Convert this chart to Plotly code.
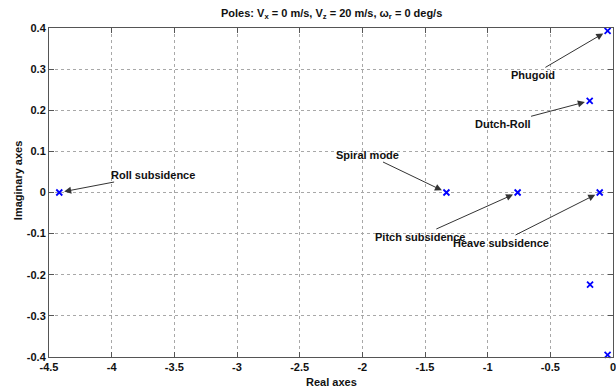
import plotly.graph_objects as go

# Pole locations (real, imaginary)
pole_re = [-0.043, -0.186, -0.183, -0.043, -1.329, -0.761, -0.106, -4.418]
pole_im = [0.393, 0.223, -0.224, -0.395, 0.0, 0.0, 0.0, 0.0]

# Mode labels and the pole each label points at (index into pole lists)
mode_names = ["Phugoid", "Dutch-Roll", "Spiral mode", "Pitch subsidence",
              "Heave subsidence", "Roll subsidence"]
mode_pole_idx = [0, 1, 4, 5, 6, 7]
# label offsets in pixels (text centre relative to pole)
label_dx = [-75, -87, -79, -98, -99, 94]
label_dy = [44, 23, -38, 44, 50, -18]

x_ticks = [-4.5, -4, -3.5, -3, -2.5, -2, -1.5, -1, -0.5, 0]
x_ticktext = ["-4.5", "-4", "-3.5", "-3", "-2.5", "-2", "-1.5", "-1", "-0.5", "0"]
y_ticks = [0.4, 0.3, 0.2, 0.1, 0, -0.1, -0.2, -0.3, -0.4]
y_ticktext = ["0.4", "0.3", "0.2", "0.1", "0", "-0.1", "-0.2", "-0.3", "-0.4"]

FONT = "Liberation Sans, Arial, sans-serif"

fig = go.Figure()
fig.add_trace(go.Scatter(
    x=pole_re, y=pole_im, mode="markers",
    marker=dict(symbol="x-thin", size=6, line=dict(width=1.8, color="#0000ff"), color="#0000ff"),
    showlegend=False, cliponaxis=False,
))

annotations = []
for name, idx, dx, dy in zip(mode_names, mode_pole_idx, label_dx, label_dy):
    annotations.append(dict(
        x=pole_re[idx], y=pole_im[idx], xref="x", yref="y",
        text="<b>%s</b>" % name, showarrow=True,
        ax=dx, ay=dy, arrowhead=2, arrowsize=1.4, arrowwidth=1,
        arrowcolor="#333333", standoff=5,
        font=dict(family=FONT, size=11, color="#111111"),
    ))

# axis titles and figure title
annotations.append(dict(
    text="<b>Poles: V<sub>x</sub> = 0 m/s, V<sub>z</sub> = 20 m/s, \u03c9<sub>r</sub> = 0 deg/s</b>",
    x=333, y=391 - 14, xref="paper", yref="paper", showarrow=False,
    font=dict(family=FONT, size=11, color="#111111"),
))
annotations.append(dict(
    text="<b>Real axes</b>", x=333, y=391 - 382, xref="paper", yref="paper",
    showarrow=False, font=dict(family=FONT, size=11, color="#111111"),
))
annotations.append(dict(
    text="<b>Imaginary axes</b>", x=18, y=391 - 180, xref="paper", yref="paper",
    showarrow=False, textangle=-90, font=dict(family=FONT, size=11, color="#111111"),
))

# convert pixel-positioned paper annotations
W, H = 616, 391
ml, mr, mt, mb = 49, 0, 28, 34
pw, ph = W - ml - mr, H - mt - mb
for a in annotations[-3:]:
    a["x"] = (a["x"] - ml) / pw
    a["y"] = (a["y"] - mb) / ph
    a["xanchor"] = "center"
    a["yanchor"] = "middle"

fig.update_layout(
    width=W, height=H,
    margin=dict(l=ml, r=mr, t=mt, b=mb),
    paper_bgcolor="white", plot_bgcolor="white",
    annotations=annotations,
    font=dict(family=FONT, size=11, color="#111111"),
)
axis_common = dict(
    showgrid=True, gridcolor="#a8a8a8", griddash="dot", gridwidth=1,
    zeroline=False, showline=True, linecolor="#555555", linewidth=1, mirror="ticks",
    ticks="inside", ticklen=5, tickcolor="#555555", ticklabeloverflow="allow",
    tickfont=dict(family=FONT, size=11, color="#111111", weight="bold"),
)
fig.update_xaxes(range=[-4.5, 0], tickvals=x_ticks, ticktext=x_ticktext, **axis_common)
fig.update_yaxes(range=[-0.4, 0.4], tickvals=y_ticks, ticktext=y_ticktext, **axis_common)

fig.write_html("out.html")
